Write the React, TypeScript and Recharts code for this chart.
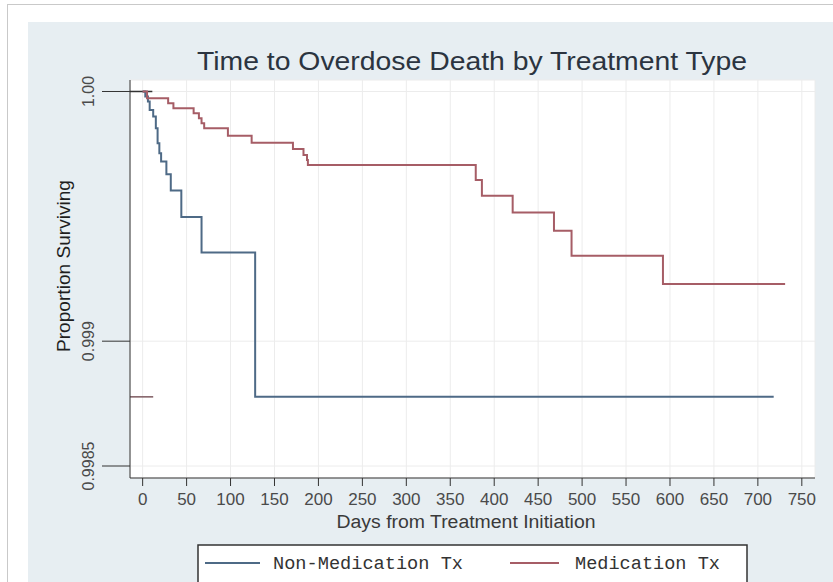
import {
  LineChart,
  Line,
  XAxis,
  YAxis,
  CartesianGrid,
  ReferenceLine,
} from "recharts";

// Kaplan-Meier step points: day of event and proportion surviving after it
const nonMedDays = [0, 3, 6, 8, 12, 15, 17, 19, 21, 27, 32, 44, 67, 128, 718];
const nonMedSurv = [
  1, 0.99998, 0.99996, 0.999926, 0.9999, 0.999853, 0.999793, 0.999753,
  0.99972, 0.999669, 0.999603, 0.999497, 0.999355, 0.998777, 0.998777,
];

const medDays = [
  0, 5, 29, 35, 58, 64, 67, 70, 97, 124, 171, 183, 187, 188, 379, 386, 421,
  468, 488, 592, 731,
];
const medSurv = [
  1, 0.999973, 0.999953, 0.999933, 0.999913, 0.999893, 0.999873, 0.999853,
  0.999823, 0.999795, 0.99977, 0.999746, 0.999726, 0.999706, 0.999646,
  0.999582, 0.999515, 0.999442, 0.999342, 0.999229, 0.999229,
];

const xTicks = [0, 50, 100, 150, 200, 250, 300, 350, 400, 450, 500, 550, 600, 650, 700, 750];
const yTicks = [0.9985, 0.999, 1.0];
const yTickLabels = ["0.9985", "0.999", "1.00"];

const xDomain = [-14.4, 765];
const yDomain = [0.998452, 1.000046];

const BLUE = "#4e6a86";
const RED = "#a65d66";

const nonMedData = nonMedDays.map((day, i) => ({ day, surv: nonMedSurv[i] }));
const medData = medDays.map((day, i) => ({ day, surv: medSurv[i] }));

const XTick = ({ x, y, payload }: any) => (
  <text
    x={x}
    y={y + 17}
    textAnchor="middle"
    fontSize={17}
    fill="#4a4a4a"
    fontFamily="'Liberation Sans', Arial, sans-serif"
  >
    {payload.value}
  </text>
);

// pick the label of the nearest configured tick (avoids float compare issues)
const yLabelFor = (v: number) => {
  let best = 0;
  yTicks.forEach((t, i) => {
    if (Math.abs(t - v) < Math.abs(yTicks[best] - v)) best = i;
  });
  return yTickLabels[best];
};

const YTick = ({ y, payload }: any) => (
  <text
    x={89}
    y={y}
    transform={`rotate(-90, 89, ${y})`}
    textAnchor="middle"
    dominantBaseline="central"
    fontSize={16}
    fill="#4a4a4a"
    fontFamily="'Liberation Sans', Arial, sans-serif"
  >
    {yLabelFor(Number(payload.value))}
  </text>
);

export default function App() {
  return (
    <div
      style={{
        position: "absolute",
        left: 0,
        top: 0,
        width: 833,
        height: 582,
        overflow: "hidden",
        background: "#fff",
      }}
    >
      {/* outer frame and graph region */}
      <div
        style={{
          position: "absolute",
          left: 7,
          top: 4,
          width: 840,
          height: 600,
          borderLeft: "1px solid #c9c9c9",
          borderTop: "1px solid #c9c9c9",
        }}
      />
      <div
        style={{
          position: "absolute",
          left: 28,
          top: 22,
          width: 820,
          height: 580,
          background: "#e7eef2",
        }}
      />

      <div style={{ position: "absolute", left: 0, top: 0 }}>
        <LineChart
          width={833}
          height={582}
          margin={{ top: 80, right: 18, bottom: 0, left: 0 }}
        >
          <CartesianGrid stroke="#ececec" fill="#ffffff" />
          <XAxis
            dataKey="day"
            type="number"
            domain={xDomain}
            ticks={xTicks}
            height={104}
            tickSize={8}
            tick={<XTick />}
            stroke="#333"
            allowDataOverflow
          />
          <YAxis
            type="number"
            domain={yDomain}
            ticks={yTicks}
            width={130}
            tickSize={28}
            tick={<YTick />}
            stroke="#333"
            allowDataOverflow
          />
          <ReferenceLine
            segment={[
              { x: -14.4, y: 1.0 },
              { x: 11, y: 1.0 },
            ]}
            stroke="#333"
            strokeWidth={1.5}
          />
          <ReferenceLine
            segment={[
              { x: -14.4, y: 0.998777 },
              { x: 12, y: 0.998777 },
            ]}
            stroke="#7d5a60"
            strokeWidth={1.5}
          />
          <Line
            data={nonMedData}
            dataKey="surv"
            type="stepAfter"
            stroke={BLUE}
            strokeWidth={2}
            dot={false}
            isAnimationActive={false}
          />
          <Line
            data={medData}
            dataKey="surv"
            type="stepAfter"
            stroke={RED}
            strokeWidth={2}
            dot={false}
            isAnimationActive={false}
          />
        </LineChart>
      </div>

      {/* titles and legend */}
      <svg
        width={833}
        height={582}
        style={{ position: "absolute", left: 0, top: 0, pointerEvents: "none" }}
        fontFamily="'Liberation Sans', Arial, sans-serif"
      >
        <text
          x={472}
          y={70}
          textAnchor="middle"
          fontSize={26}
          fill="#2b3440"
          textLength={550}
          lengthAdjust="spacingAndGlyphs"
        >
          Time to Overdose Death by Treatment Type
        </text>
        <text
          x={63}
          y={266}
          transform="rotate(-90, 63, 266)"
          textAnchor="middle"
          dominantBaseline="central"
          fontSize={19}
          fill="#1e1e1e"
          textLength={172}
          lengthAdjust="spacingAndGlyphs"
        >
          Proportion Surviving
        </text>
        <text
          x={466}
          y={528}
          textAnchor="middle"
          fontSize={18}
          fill="#3a3a3a"
          textLength={259}
          lengthAdjust="spacingAndGlyphs"
        >
          Days from Treatment Initiation
        </text>

        <rect x={198} y={545} width={549} height={60} fill="#fff" stroke="#333" strokeWidth={1.5} />
        <line x1={205} x2={260} y1={563} y2={563} stroke={BLUE} strokeWidth={2} />
        <text
          x={273}
          y={569}
          fontSize={18}
          fill="#333"
          fontFamily="'Liberation Mono', 'Courier New', monospace"
          textLength={190}
          lengthAdjust="spacingAndGlyphs"
        >
          Non-Medication Tx
        </text>
        <line x1={510} x2={559} y1={563} y2={563} stroke={RED} strokeWidth={2} />
        <text
          x={575}
          y={569}
          fontSize={18}
          fill="#333"
          fontFamily="'Liberation Mono', 'Courier New', monospace"
          textLength={145}
          lengthAdjust="spacingAndGlyphs"
        >
          Medication Tx
        </text>
      </svg>
    </div>
  );
}
